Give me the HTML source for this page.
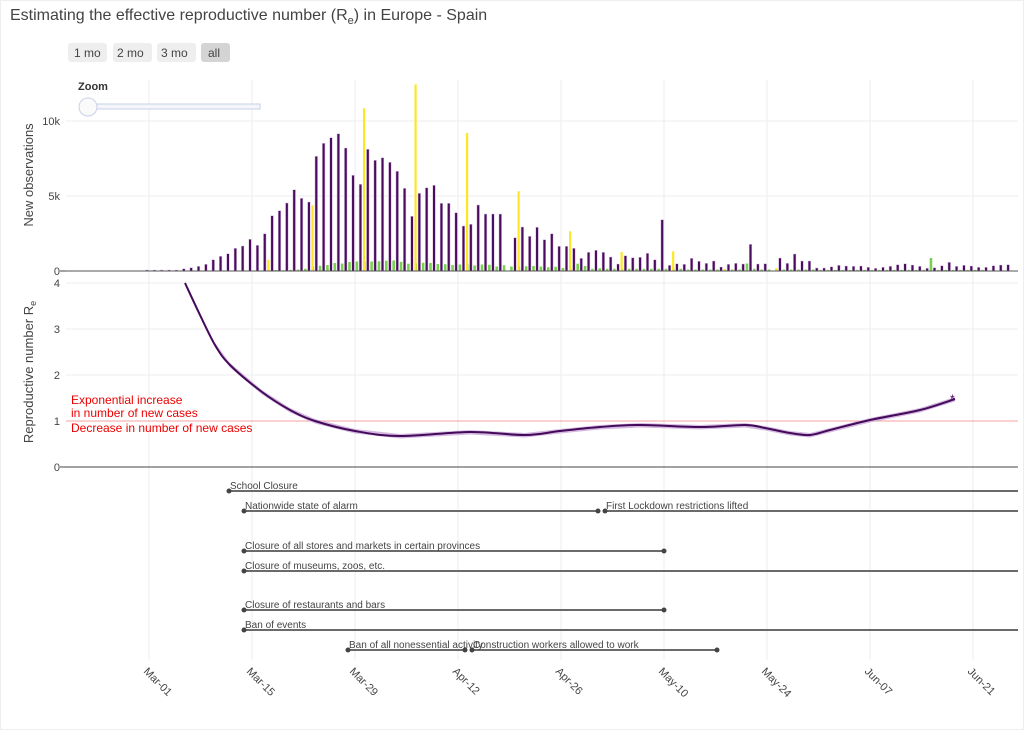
<!DOCTYPE html>
<html><head><meta charset="utf-8"><style>
body{margin:0;background:#fff;font-family:"Liberation Sans","DejaVu Sans",sans-serif;}
svg text{font-family:"Liberation Sans","DejaVu Sans",sans-serif;}
</style></head><body>
<svg id="s" width="1024" height="730" xmlns="http://www.w3.org/2000/svg">
<rect x="0.5" y="0.5" width="1023" height="729" fill="#fff" stroke="#eee"/>
<text x="10" y="20" font-size="16" fill="#444">Estimating the effective reproductive number (R<tspan font-size="11" dy="4">e</tspan><tspan dy="-4">) in Europe - Spain</tspan></text>
<g font-size="12" fill="#444">
<rect x="68" y="43" width="39" height="19" rx="3" fill="#eee"/><text x="74" y="57">1 mo</text>
<rect x="113" y="43" width="39" height="19" rx="3" fill="#eee"/><text x="117" y="57">2 mo</text>
<rect x="157" y="43" width="39" height="19" rx="3" fill="#eee"/><text x="161" y="57">3 mo</text>
<rect x="201" y="43" width="29" height="19" rx="3" fill="#d4d4d4"/><text x="208" y="57">all</text>
</g>
<g id="grid" stroke="#eee" stroke-width="1"></g>
<line x1="66" y1="121" x2="1018" y2="121" stroke="#eee"/>
<line x1="66" y1="196" x2="1018" y2="196" stroke="#eee"/>
<line x1="66" y1="329" x2="1018" y2="329" stroke="#eee"/>
<line x1="66" y1="375" x2="1018" y2="375" stroke="#eee"/>
<line x1="66" y1="283" x2="1018" y2="283" stroke="#eee"/>
<text x="78" y="90" font-size="11" font-weight="bold" fill="#333">Zoom</text>
<rect x="88" y="104" width="172" height="5" fill="#f4f6fb" stroke="#c8d0e6"/>
<circle cx="88" cy="107" r="9" fill="#fafafa" stroke="#c8d0e6"/>
<g id="bars"></g>
<line x1="66" y1="271" x2="1018" y2="271" stroke="#555" stroke-width="1"/>
<line x1="66" y1="467" x2="1018" y2="467" stroke="#444" stroke-width="1"/>
<line x1="66" y1="421" x2="1018" y2="421" stroke="#f4a0a0" stroke-width="1"/>
<g font-size="11" fill="#444" text-anchor="end">
<text x="60" y="125">10k</text><text x="60" y="200">5k</text><text x="60" y="275">0</text>
<text x="60" y="287">4</text><text x="60" y="333">3</text><text x="60" y="379">2</text><text x="60" y="425">1</text><text x="60" y="471">0</text>
</g>
<line x1="60" y1="467" x2="66" y2="467" stroke="#444"/>
<line x1="60" y1="271" x2="66" y2="271" stroke="#444"/>
<text transform="translate(33,175) rotate(-90)" font-size="13" fill="#444" text-anchor="middle">New observations</text>
<text transform="translate(33,372) rotate(-90)" font-size="13" fill="#444" text-anchor="middle">Reproductive number R<tspan font-size="9" dy="3">e</tspan></text>
<path id="band" fill="#c9a8d8" opacity="0.8"/>
<path id="re" fill="none" stroke="#440a5a" stroke-width="2"/>
<text x="950" y="403" font-size="12" fill="#440a5a">*</text>
<g font-size="12" fill="#e00">
<text x="71" y="404">Exponential increase</text>
<text x="71" y="417">in number of new cases</text>
<text x="71" y="432">Decrease in number of new cases</text>
</g>
<g id="tl" stroke="#555" stroke-width="1.8" fill="#444"></g>
<g id="tlt" font-size="10" fill="#444"></g>
<g id="xt" font-size="11" fill="#444"></g>
</svg>
<script>
var NS="http://www.w3.org/2000/svg";
function el(p,t,a,txt){var e=document.createElementNS(NS,t);for(var k in a)e.setAttribute(k,a[k]);if(txt)e.textContent=txt;document.getElementById(p).appendChild(e);return e;}
var ticks=[149,252,355,458,561,664,767,870,973],lab=["Mar-01","Mar-15","Mar-29","Apr-12","Apr-26","May-10","May-24","Jun-07","Jun-21"];
ticks.forEach(function(x,i){el("grid","line",{x1:x,y1:80,x2:x,y2:660});
el("xt","text",{x:x-6,y:672,transform:"rotate(45 "+(x-6)+" 672)"},lab[i]);});
var p=[1,1,1,1,1,2.3,3.3,4.7,6.7,11.3,14.7,17.3,22.7,25,31.7,25.7,37.3,55.3,60.3,68,81.3,72.7,69,114.7,127.7,133.3,137.3,123,95.7,86.7,121.7,110.7,113.3,108.7,99.7,82.7,54.7,77.7,83.3,85.7,67.7,67.7,58.3,45,46.7,66,57,57,57,0,33.3,44,34.7,43.7,31.3,
37.3,24.7,24.7,22.7,12.7,18.7,20.7,18.7,14,7,15.3,13.3,13.7,17.7,11.3,51.3,5.7,7.3,6.7,12.7,9.7,7.7,10,4,6.7,7.7,7,26.7,7,7.3,0,13,7.7,17,10,10,3,3,4.3,5.7,5,4.7,5,3.7,2.7,3.7,4.7,6.3,7.3,6,4.7,2.7,3.3,5.3,8.7,4.7,5.7,5,3.7,3.7,5.3,6,6.3];
var y={16:11.3,22:65.7,29:162.7,36:186.7,43:138,50:79.7,57:39.7,64:19,71:19.7,78:2,85:2.7};
var g=[0,0,0,0,0,0,0,0,0,0,0.5,0.5,0.5,0.5,0.5,0.7,1,1.3,1,1.5,2,3,6,7,8,10.7,10,12,12.7,13,12.7,13,13.7,14,12.3,9.7,10,11,10.7,9.3,9,8,8.7,9.3,7.3,8.7,8.3,6,7.7,6,6,6.3,6.7,6,5,5.7,4,3,9.7,6.7,3,3.7,3,3,3,3,3,3,3,3,3,3,3,2,2,2,2,2,2,2,2,10,3,2,2,3,2,2,2,2,2,1.5,1.5,1.5,1.5,1.5,1.5,1.5,1.5,1.5,1.5,1.5,1.5,1.5,1.5,1.5,17.3,1.5,1.5,1.5,1.5,1.5,1.5,1.5];
for(var i=0;i<p.length;i++){var x=147+i*7.36;
if(p[i]>0)el("bars","rect",{x:x-1.3,y:271-p[i],width:2.6,height:p[i],fill:"#4a0c5e",stroke:"#d8c0e0","stroke-width":0.5});
var o=y[i]||0,gg=(g[i]||0)*0.75;
if(gg>0)el("bars","rect",{x:x+2.5,y:271-gg,width:2.6,height:gg,fill:"#7ad151"});
if(o>0)el("bars","rect",{x:x+2.5,y:271-o,width:2.2,height:o,fill:"#fde725"});}
var pts=[[185,283],[200,315],[215,345],[230,365],[262,392],[290,410],[315,421],[355,431],[400,436],[470,432],[525,435],[560,431],[600,427],[640,425],[700,427],[745,425],[765,428],[790,433],[810,435],[830,430],[870,420],[920,410],[955,399]];
function smooth(a,dy){var s="M"+a[0][0]+","+(a[0][1]+dy);for(var i=0;i<a.length-1;i++){var p0=a[Math.max(i-1,0)],p1=a[i],p2=a[i+1],p3=a[Math.min(i+2,a.length-1)];
s+=" C"+(p1[0]+(p2[0]-p0[0])/6)+","+(p1[1]+(p2[1]-p0[1])/6+dy)+" "+(p2[0]-(p3[0]-p1[0])/6)+","+(p2[1]-(p3[1]-p1[1])/6+dy)+" "+p2[0]+","+(p2[1]+dy);}return s;}
document.getElementById("re").setAttribute("d",smooth(pts,0));
var up=pts.map(function(q){return q[0]+","+(q[1]-2)}),dn=pts.slice().reverse().map(function(q){return q[0]+","+(q[1]+2.5)});
document.getElementById("band").setAttribute("d","M"+up.join(" L")+" L"+dn.join(" L")+"Z");
var tl=[[491,229,1018,"School Closure"],[511,244,598,"Nationwide state of alarm"],[511,605,1018,"First Lockdown restrictions lifted"],[551,244,664,"Closure of all stores and markets in certain provinces"],[571,244,1018,"Closure of museums, zoos, etc."],[610,244,664,"Closure of restaurants and bars"],[630,244,1018,"Ban of events"],[650,348,465,"Ban of all nonessential activity"],[650,472,717,"Construction workers allowed to work"]];
tl.forEach(function(t){el("tl","line",{x1:t[1],y1:t[0],x2:t[2],y2:t[0]});
el("tl","circle",{cx:t[1],cy:t[0],r:2.5,stroke:"none"});if(t[2]<1018)el("tl","circle",{cx:t[2],cy:t[0],r:2.5,stroke:"none"});
el("tlt","text",{x:t[1]+1,y:t[0]-2},t[3]);});
</script>
</body></html>
